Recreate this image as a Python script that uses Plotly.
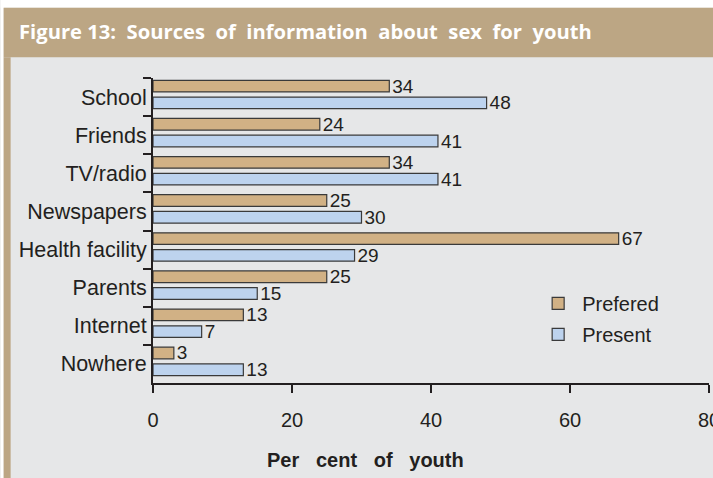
import plotly.graph_objects as go

# Survey results: share of youth naming each source of information about sex
categories = ["School", "Friends", "TV/radio", "Newspapers", "Health facility",
              "Parents", "Internet", "Nowhere"]
prefered = [34, 24, 34, 25, 67, 25, 13, 3]
present = [48, 41, 41, 30, 29, 15, 7, 13]
x_ticks = [0, 20, 40, 60, 80]

W, H = 713, 478
L, R, T, B = 152.5, 709.0, 78.3, 383.0  # plot area in pixels

TAN = "#BCA684"
PANEL = "#E6E7E8"
INK = "#231F20"
FONT = "Liberation Sans, Arial, sans-serif"


def px_x(px):
    return (px - L) / (R - L)


def px_y(py):
    return (B - py) / (B - T)


bar_line = dict(color="#3a3a3a", width=1.2)
label_font = dict(family=FONT, size=19, color=INK)

fig = go.Figure()
fig.add_trace(go.Bar(
    name="Prefered", y=categories, x=prefered, orientation="h",
    marker=dict(color="#D1B185", line=bar_line),
    text=[str(v) for v in prefered], textposition="outside",
    textfont=label_font, constraintext="none", cliponaxis=False,
    offset=-0.44, width=0.305, legendgroup="a",
))
fig.add_trace(go.Bar(
    name="Present", y=categories, x=present, orientation="h",
    marker=dict(color="#BDD3EE", line=bar_line),
    text=[str(v) for v in present], textposition="outside",
    textfont=label_font, constraintext="none", cliponaxis=False,
    offset=0.0, width=0.305, legendgroup="b",
))

# page decoration: white edge, tan header band and tan left rule
shapes = [
    dict(type="rect", xref="paper", yref="paper", layer="below",
         x0=px_x(0), x1=px_x(W), y0=px_y(0), y1=px_y(8),
         fillcolor="white", line=dict(width=0)),
    dict(type="rect", xref="paper", yref="paper", layer="below",
         x0=px_x(0), x1=px_x(3), y0=px_y(0), y1=px_y(H),
         fillcolor="white", line=dict(width=0)),
    dict(type="rect", xref="paper", yref="paper", layer="below",
         x0=px_x(3), x1=px_x(W), y0=px_y(8), y1=px_y(57.5),
         fillcolor=TAN, line=dict(width=0)),
    dict(type="rect", xref="paper", yref="paper", layer="below",
         x0=px_x(3), x1=px_x(10), y0=px_y(57.5), y1=px_y(H),
         fillcolor=TAN, line=dict(width=0)),
]

fig.update_layout(
    width=W, height=H,
    margin=dict(l=L, r=W - R, t=T, b=H - B, pad=0, autoexpand=False),
    paper_bgcolor=PANEL, plot_bgcolor=PANEL,
    font=dict(family=FONT, size=20, color=INK),
    barmode="group",
    showlegend=True,
    legend=dict(
        x=px_x(534), y=px_y(319), xanchor="left", yanchor="middle",
        bgcolor="rgba(0,0,0,0)", font=dict(family=FONT, size=20, color=INK),
        tracegroupgap=2, itemwidth=38,
    ),
    title=dict(
        text="<b>Figure 13:  Sources  of  information  about  sex  for  youth</b>",
        font=dict(family="Open Sans, sans-serif", size=20.2, color="white"),
        xref="container", yref="container", x=19 / W, xanchor="left",
        y=1 - 32 / H, yanchor="middle",
    ),
    xaxis=dict(
        range=[0, 80], tickvals=x_ticks, ticktext=[str(v) for v in x_ticks],
        showgrid=False, zeroline=False, showline=True, linecolor=INK, linewidth=2,
        ticks="outside", ticklen=8, tickwidth=2, tickcolor=INK,
        tickfont=dict(family=FONT, size=20, color=INK), ticklabelstandoff=10,
        ticklabeloverflow="allow", automargin=False,
    ),
    yaxis=dict(
        categoryorder="array", categoryarray=categories, autorange="reversed",
        showgrid=False, zeroline=False, showline=True, linecolor=INK, linewidth=2,
        ticks="outside", ticklen=8, tickwidth=2, tickcolor=INK, tickson="boundaries",
        tickfont=dict(family=FONT, size=21.5, color=INK), automargin=False,
    ),
    shapes=shapes,
    annotations=[dict(
        text="<b>Per\u00a0\u00a0 cent\u00a0\u00a0 of\u00a0\u00a0 youth</b>",
        xref="paper", yref="paper", x=px_x(365), y=px_y(460),
        xanchor="center", yanchor="middle", showarrow=False,
        font=dict(family=FONT, size=20, color=INK),
    )],
)

fig.write_html("out.html")
